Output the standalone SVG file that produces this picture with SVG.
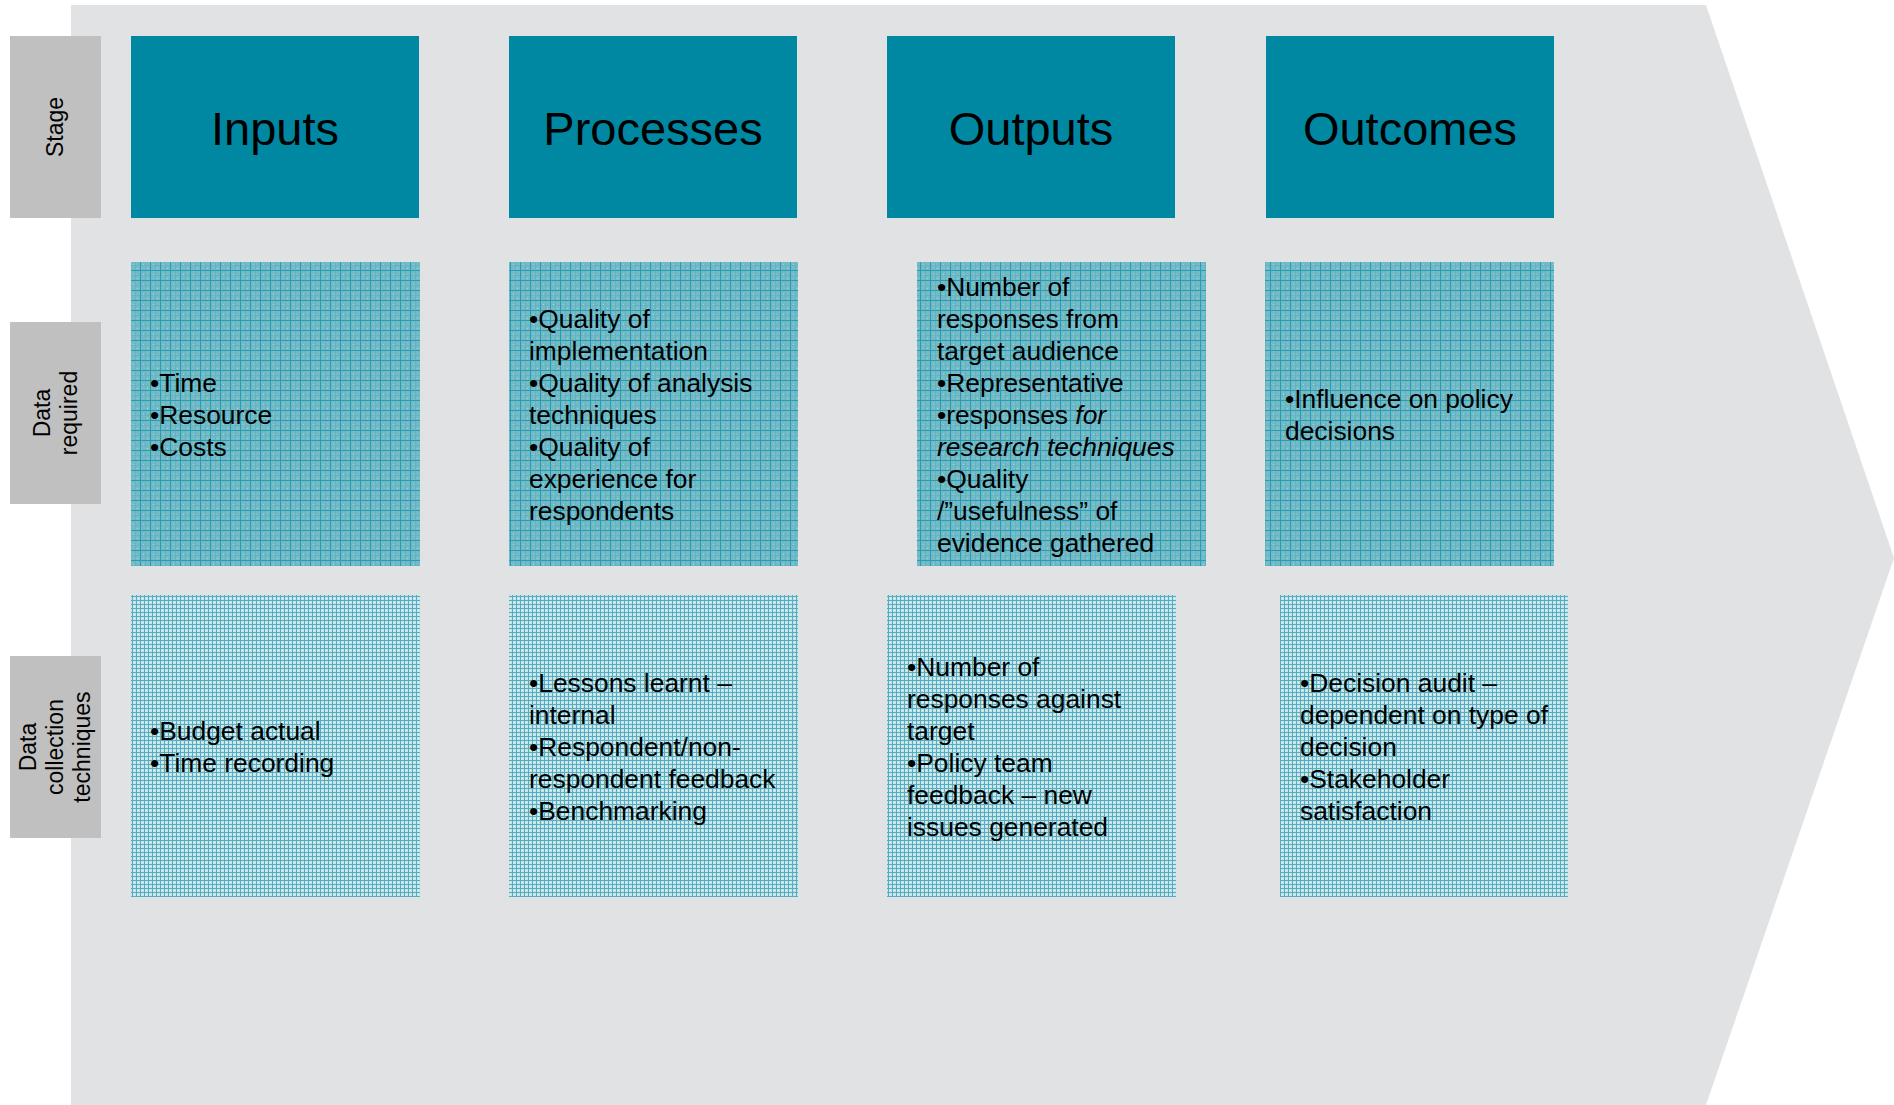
<svg xmlns="http://www.w3.org/2000/svg" width="1894" height="1105" viewBox="0 0 1894 1105">
<style>
  .lbl{fill:#C0C0C0}
  .hdr{fill:#0088A3}
  .req{fill:url(#patReq)}
  .col{fill:url(#patCol)}
  text{font-family:"Liberation Sans",Arial,Helvetica,sans-serif;fill:#000}
  .h{font-size:47px;text-anchor:middle}
  .b{font-size:26.4px}
  .r{font-size:23px;text-anchor:middle}
  .i{font-style:italic}
</style>
<defs>
  <pattern id="patReq" patternUnits="userSpaceOnUse" width="10" height="10">
    <rect width="10" height="10" fill="#74BBC8"/>
    <rect x="3" y="4" width="1" height="1" fill="#A9D7E0"/>
    <rect x="7" y="8" width="1" height="1" fill="#A9D7E0"/>
    <rect x="5" y="0" width="1" height="10" fill="#66B3C1"/>
    <rect x="0" y="5" width="10" height="1" fill="#66B3C1"/>
    <rect x="0" y="0" width="10" height="1" fill="#2A9BB0"/>
    <rect x="0" y="0" width="1" height="10" fill="#2A9BB0"/>
  </pattern>
  <pattern id="patCol" patternUnits="userSpaceOnUse" width="4" height="4">
    <rect width="4" height="4" fill="#C6E3E9"/>
    <rect x="2" y="2" width="1" height="1" fill="#E6F3F5"/>
    <rect x="0" y="0" width="4" height="1" fill="#55AEBF"/>
    <rect x="0" y="0" width="1" height="4" fill="#55AEBF"/>
  </pattern>
</defs>

<g id="background">
  <polygon points="71,5 1706,5 1894,558 1706,1105 71,1105" fill="#E1E2E4"/>
</g>

<g id="label-stage">
  <rect class="lbl" x="10" y="36" width="91" height="182"/>
  <text class="r" transform="translate(63,127) rotate(-90)">Stage</text>
</g>
<g id="label-data-required">
  <rect class="lbl" x="10" y="322" width="91" height="182"/>
  <text class="r" transform="translate(50,413) rotate(-90)">Data</text>
  <text class="r" transform="translate(77,413) rotate(-90)">required</text>
</g>
<g id="label-data-collection">
  <rect class="lbl" x="10" y="656" width="91" height="182"/>
  <text class="r" transform="translate(36,747) rotate(-90)">Data</text>
  <text class="r" transform="translate(63,747) rotate(-90)">collection</text>
  <text class="r" transform="translate(90,747) rotate(-90)">techniques</text>
</g>

<g id="stage-inputs">
  <rect class="hdr" x="131" y="36" width="288" height="182"/>
  <text class="h" x="275" y="145">Inputs</text>
</g>
<g id="stage-processes">
  <rect class="hdr" x="509" y="36" width="288" height="182"/>
  <text class="h" x="653" y="145">Processes</text>
</g>
<g id="stage-outputs">
  <rect class="hdr" x="887" y="36" width="288" height="182"/>
  <text class="h" x="1031" y="145">Outputs</text>
</g>
<g id="stage-outcomes">
  <rect class="hdr" x="1266" y="36" width="288" height="182"/>
  <text class="h" x="1410" y="145">Outcomes</text>
</g>

<g id="req-inputs">
  <rect class="req" x="131" y="262" width="289" height="304"/>
  <text class="b" x="150" y="392">•Time</text>
  <text class="b" x="150" y="424">•Resource</text>
  <text class="b" x="150" y="456">•Costs</text>
</g>
<g id="req-processes">
  <rect class="req" x="509" y="262" width="289" height="304"/>
  <text class="b" x="529" y="328">•Quality of</text>
  <text class="b" x="529" y="360">implementation</text>
  <text class="b" x="529" y="392">•Quality of analysis</text>
  <text class="b" x="529" y="424">techniques</text>
  <text class="b" x="529" y="456">•Quality of</text>
  <text class="b" x="529" y="488">experience for</text>
  <text class="b" x="529" y="520">respondents</text>
</g>
<g id="req-outputs">
  <rect class="req" x="917" y="262" width="289" height="304"/>
  <text class="b" x="937" y="296">•Number of</text>
  <text class="b" x="937" y="328">responses from</text>
  <text class="b" x="937" y="360">target audience</text>
  <text class="b" x="937" y="392">•Representative</text>
  <text class="b" x="937" y="424">•responses <tspan class="i">for</tspan></text>
  <text class="b i" x="937" y="456">research techniques</text>
  <text class="b" x="937" y="488">•Quality</text>
  <text class="b" x="937" y="520">/”usefulness” of</text>
  <text class="b" x="937" y="552">evidence gathered</text>
</g>
<g id="req-outcomes">
  <rect class="req" x="1265" y="262" width="289" height="304"/>
  <text class="b" x="1285" y="408">•Influence on policy</text>
  <text class="b" x="1285" y="440">decisions</text>
</g>

<g id="col-inputs">
  <rect class="col" x="131" y="595" width="289" height="302"/>
  <text class="b" x="150" y="740">•Budget actual</text>
  <text class="b" x="150" y="772">•Time recording</text>
</g>
<g id="col-processes">
  <rect class="col" x="509" y="595" width="289" height="302"/>
  <text class="b" x="529" y="692">•Lessons learnt –</text>
  <text class="b" x="529" y="724">internal</text>
  <text class="b" x="529" y="756">•Respondent/non-</text>
  <text class="b" x="529" y="788">respondent feedback</text>
  <text class="b" x="529" y="820">•Benchmarking</text>
</g>
<g id="col-outputs">
  <rect class="col" x="887" y="595" width="289" height="302"/>
  <text class="b" x="907" y="676">•Number of</text>
  <text class="b" x="907" y="708">responses against</text>
  <text class="b" x="907" y="740">target</text>
  <text class="b" x="907" y="772">•Policy team</text>
  <text class="b" x="907" y="804">feedback – new</text>
  <text class="b" x="907" y="836">issues generated</text>
</g>
<g id="col-outcomes">
  <rect class="col" x="1280" y="595" width="288" height="302"/>
  <text class="b" x="1300" y="692">•Decision audit –</text>
  <text class="b" x="1300" y="724">dependent on type of</text>
  <text class="b" x="1300" y="756">decision</text>
  <text class="b" x="1300" y="788">•Stakeholder</text>
  <text class="b" x="1300" y="820">satisfaction</text>
</g>

<g id="connectors"></g>
</svg>
